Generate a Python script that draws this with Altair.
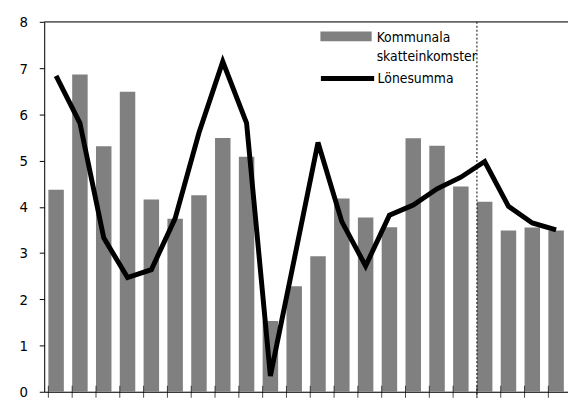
import altair as alt
import pandas as pd

categories = [str(y) for y in range(2005, 2027)]
skatt = [4.37, 6.86, 5.31, 6.49, 4.16, 3.74, 4.25, 5.49, 5.08, 1.53, 2.28,
         2.93, 4.18, 3.77, 3.56, 5.48, 5.32, 4.44, 4.11, 3.49, 3.55, 3.49]
lone = [6.83, 5.81, 3.33, 2.47, 2.64, 3.75, 5.60, 7.14, 5.81, 0.34, 2.86,
        5.39, 3.68, 2.72, 3.82, 4.04, 4.39, 4.64, 4.98, 4.01, 3.65, 3.50]
forecast_start = "2023"
y_ticks = [0, 1, 2, 3, 4, 5, 6, 7, 8]

bar_name = "Kommunala|skatteinkomster"
line_name = "Lönesumma"

FONT = "Liberation Sans Narrow, DejaVu Sans Condensed, Roboto Condensed, sans-serif"
W, H = 531, 375

df = pd.DataFrame({"cat": categories, "skatt": skatt, "lone": lone,
                   "s1": bar_name, "s2": line_name})
df_fc = pd.DataFrame({"cat": [forecast_start]})

xscale = alt.Scale(domain=categories, paddingInner=0.35, paddingOuter=0.175)
yscale = alt.Scale(domain=[0, 8], nice=False)

yaxis = alt.Axis(values=y_ticks, grid=False, domainColor="black", tickColor="black",
                 tickSize=5, labelPadding=12, labelFontSize=15, labelFont=FONT,
                 labelColor="black", title=None, domainWidth=1)
xaxis = alt.Axis(labels=False, ticks=False, domainColor="black", title=None,
                 domainWidth=1.2, grid=False)

bars = alt.Chart(df).mark_bar(stroke=None).encode(
    x=alt.X("cat:N", scale=xscale, axis=xaxis, sort=categories),
    y=alt.Y("skatt:Q", scale=yscale, axis=yaxis),
    fill=alt.Fill("s1:N", scale=alt.Scale(domain=[bar_name], range=["#808080"]),
                  legend=alt.Legend(title=None, orient="none", legendX=280, legendY=-17,
                                    symbolType="M-1,0.03H1V0.41H-1Z", symbolSize=2704,
                                    symbolStrokeWidth=0, labelFont=FONT, labelFontSize=14,
                                    labelColor="black", labelLimit=0, padding=0,
                                    labelOffset=5, labelBaseline="top",
                                    labelExpr="split(datum.label, '|')")),
)

line = alt.Chart(df).mark_line(strokeWidth=5, strokeJoin="miter").encode(
    x=alt.X("cat:N", scale=xscale, sort=categories),
    y=alt.Y("lone:Q", scale=yscale),
    stroke=alt.Stroke("s2:N", scale=alt.Scale(domain=[line_name], range=["black"]),
                      legend=alt.Legend(title=None, orient="none", legendX=278, legendY=28,
                                        symbolType="stroke", symbolSize=2916,
                                        symbolStrokeWidth=5, labelFont=FONT, labelFontSize=14,
                                        labelColor="black", labelLimit=0, padding=0,
                                        labelOffset=1)),
)

ticks = alt.Chart(df).mark_tick(orient="vertical", color="black", thickness=1, size=12).encode(
    x=alt.X("cat:N", scale=xscale, sort=categories, bandPosition=0),
    y=alt.value(H),
)

fc = alt.Chart(df_fc).mark_rule(color="black", strokeDash=[2, 2], strokeWidth=1).encode(
    x=alt.X("cat:N", scale=xscale, sort=categories, bandPosition=0),
    y=alt.value(0),
    y2=alt.value(H + 6),
)

top = alt.Chart(df_fc).mark_rule(color="#333333", strokeWidth=1.2).encode(
    x=alt.value(0), x2=alt.value(W), y=alt.value(0)
)

chart = alt.layer(bars, line, ticks, fc, top).properties(
    width=W, height=H,
    autosize=alt.AutoSizeParams(type="none"),
    padding={"left": 36.7, "top": 11.3, "right": 0, "bottom": 12},
).configure_view(stroke=None).configure(
    background="white",
    style={"guide-label": {"lineHeight": 20}},
)

chart.save("out.html", embed_options={"renderer": "svg", "actions": False})
